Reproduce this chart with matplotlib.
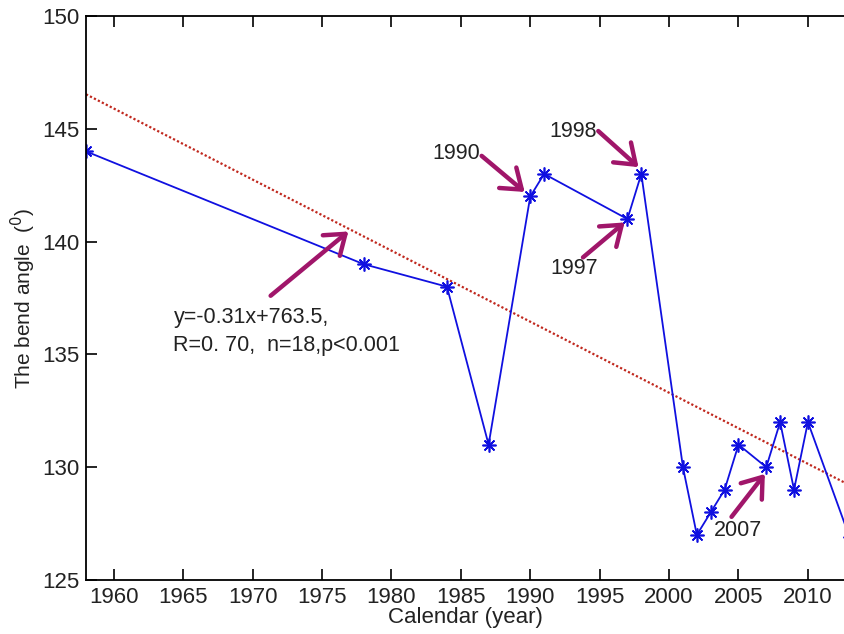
import matplotlib.pyplot as plt

plt.rcParams['font.family'] = ['Liberation Sans', 'DejaVu Sans']

# bend angle by year
years = [1958, 1978, 1984, 1987, 1990, 1991, 1997, 1998, 2001, 2002,
         2003, 2004, 2005, 2007, 2008, 2009, 2010, 2013]
angles = [144, 139, 138, 131, 142, 143, 141, 143, 130, 127,
          128, 129, 131, 130, 132, 129, 132, 126.9]

# fitted trend (as drawn)
slope = -0.315
intercept = 763.3

# labels: text, text pos, arrow tail, arrow head
notes = [
    ("1990", (1984.7, 143.9), (1986.5, 143.8), (1989.6, 142.2)),
    ("1998", (1993.1, 144.9), (1994.9, 144.9), (1997.8, 143.3)),
    ("1997", (1993.2, 138.8), (1993.8, 139.3), (1996.8, 140.85)),
    ("2007", (2005.0, 127.2), (2004.5, 127.8), (2006.9, 129.7)),
    ("", (1971.3, 137.6), (1971.3, 137.6), (1976.9, 140.45)),
]
fit_text = "y=-0.31x+763.5,\nR=0. 70,  n=18,p<0.001"

xmin, xmax = 1958, 2012.6
arrow_col = "#a0166a"
txt_col = "#222222"

fig = plt.figure(figsize=(8.44, 6.34), dpi=100)
ax = fig.add_axes([86 / 844, 54 / 634, 758 / 844, 564 / 634])

ax.plot([xmin, xmax], [slope * xmin + intercept, slope * xmax + intercept],
        color="#c0281e", linestyle=(0, (1, 1)), lw=1.6)
ax.plot(years, angles, color="#1010e0", lw=1.3, marker=(8, 2, 0),
        markersize=10, markeredgewidth=1.2)

for txt, tpos, tail, head in notes:
    ax.annotate("", xy=head, xytext=tail,
                arrowprops=dict(arrowstyle="->,head_length=0.55,head_width=0.4",
                                color=arrow_col, lw=3.2, mutation_scale=24,
                                shrinkA=0, shrinkB=0))
    if txt:
        ax.text(tpos[0], tpos[1], txt, ha="center", va="center", fontsize=15.5,
                color=txt_col)

ax.text(1964.3, 136.0, fit_text, ha="left", va="center", fontsize=15.5,
        color=txt_col, linespacing=1.45)

ax.set_xlim(xmin, xmax)
ax.set_ylim(125, 150)
ax.set_xticks(range(1960, 2011, 5))
ax.set_yticks(range(125, 151, 5))
ax.tick_params(direction="in", length=8, width=1.2, labelsize=16, top=True,
               right=False, pad=5, labelcolor=txt_col)
for s in ["left", "bottom", "top"]:
    ax.spines[s].set_linewidth(1.3)
ax.spines["right"].set_visible(False)

ax.set_xlabel("Calendar (year)", fontsize=16, labelpad=-1, color=txt_col)
ax.set_ylabel("The bend angle  ($^0$)", fontsize=15, labelpad=3, color=txt_col)

fig.savefig("out.png", dpi=100)
